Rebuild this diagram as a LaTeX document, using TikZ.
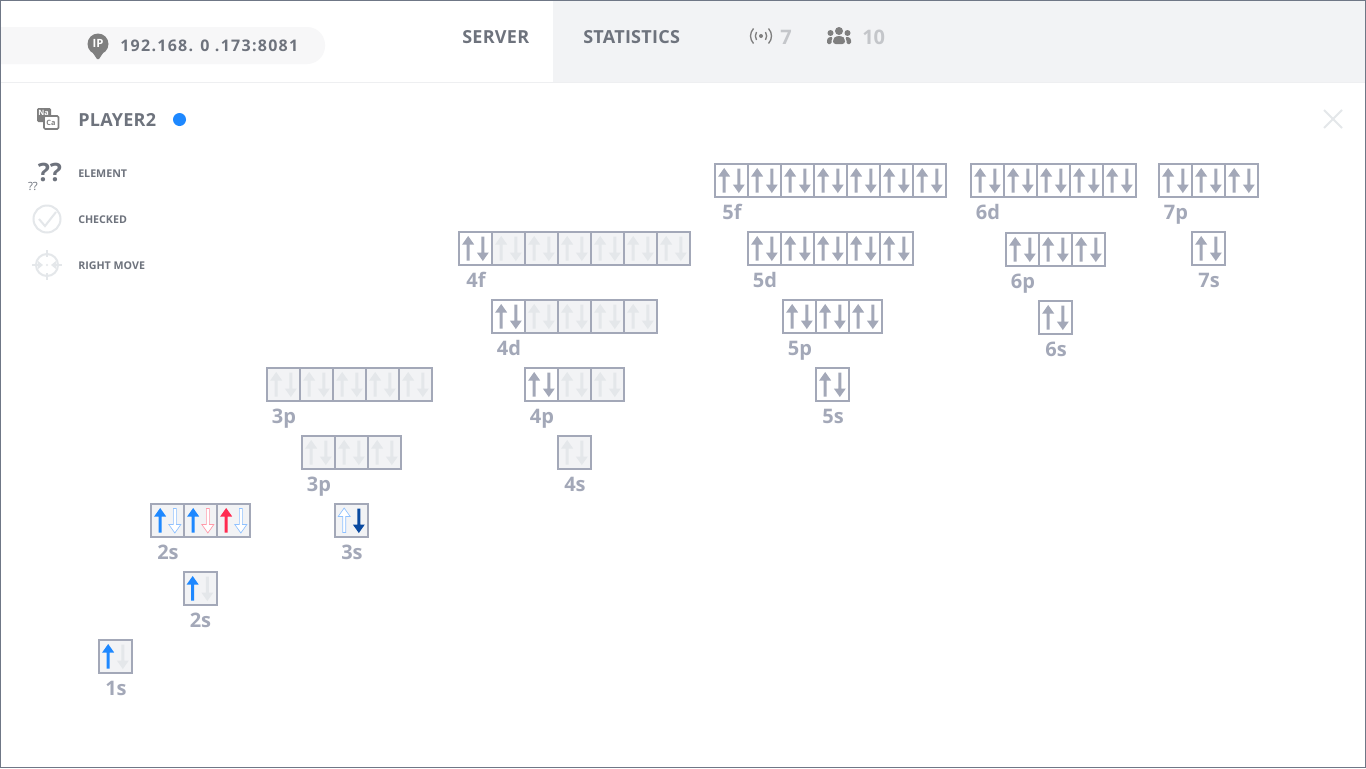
\documentclass[tikz,border=0pt]{standalone}
\usepackage{fontspec}
\setmainfont{Open Sans}
\newfontfamily\ipfont[LetterSpace=8]{Open Sans}
\newfontfamily\headfont[LetterSpace=1.5]{Open Sans}
\usetikzlibrary{positioning}

\definecolor{framegray}{HTML}{6F7786}
\definecolor{tabgray}{HTML}{F2F3F5}
\definecolor{pillgray}{HTML}{F7F7F8}
\definecolor{rulegray}{HTML}{EEEFF1}
\definecolor{titlegray}{HTML}{6E737D}
\definecolor{icongray}{HTML}{7F7F7F}
\definecolor{countgray}{HTML}{C4C6CA}
\definecolor{cellgray}{HTML}{A3A8B8}
\definecolor{faintgray}{HTML}{E4E7EA}
\definecolor{spinblue}{HTML}{1E88FF}
\definecolor{paleblue}{HTML}{8FC1FF}
\definecolor{darkblue}{HTML}{0A4AA0}
\definecolor{spinred}{HTML}{FF2A50}
\definecolor{palered}{HTML}{FF9AA9}

\tikzset{
  cellon/.style={draw=cellgray, line width=1.5pt, fill=white, minimum size=24.75pt, inner sep=0pt, outer sep=0pt},
  celloff/.style={cellon, fill=tabgray},
  orblabel/.style={text=cellgray, font=\fontsize{15}{15}\selectfont\bfseries, anchor=base, inner sep=0pt},
  titletext/.style={text=titlegray, font=\headfont\fontsize{13.5}{15}\selectfont\bfseries, anchor=west, inner sep=0pt},
  legendtext/.style={text=titlegray, font=\fontsize{8}{9}\selectfont\bfseries, anchor=west, inner sep=0pt},
  counttext/.style={text=countgray, font=\fontsize{15}{15}\selectfont\bfseries, anchor=west, inner sep=0pt},
  spingray/.style={fill=cellgray},
  spinfaint/.style={fill=faintgray},
  spinsolid/.style={fill=#1},
  spinopen/.style={draw=#1, fill=white, line width=0.5pt},
  spinup/.pic={
    \path[pic actions] (0,-12.5) -- (6,-4) -- (1.5,-4) -- (1.5,12) -- (-1.5,12) -- (-1.5,-4) -- (-6,-4) -- cycle;
  },
  spindown/.pic={
    \path[pic actions] (0,12.5) -- (6,4) -- (1.5,4) -- (1.5,-12) -- (-1.5,-12) -- (-1.5,4) -- (-6,4) -- cycle;
  },
}

% two arrows of one box
\newcommand{\spins}[3]{
  \pic[#2] at ([xshift=-5.5pt]#1.center) {spinup};
  \pic[#3] at ([xshift=5.5pt]#1.center) {spindown};
}
% name, x, y, boxes, white boxes, label
\newcommand{\orbbox}[6]{
  \foreach \i in {1,...,#4} {
    \ifnum\i>#5 \tikzset{cellnow/.style={celloff}} \else \tikzset{cellnow/.style={cellon}} \fi
    \node[cellnow] (#1-\i) at ({#2+33*(\i-1)+16.5},{#3+16.5}) {};
  }
  \node[orblabel] (#1-label) at ({#2+17},{#3+55}) {#6};
}
\newcommand{\orbrow}[6]{
  \orbbox{#1}{#2}{#3}{#4}{#5}{#6}
  \foreach \i in {1,...,#4} {
    \ifnum\i>#5 \spins{#1-\i}{spinfaint}{spinfaint} \else \spins{#1-\i}{spingray}{spingray} \fi
  }
}

\begin{document}
\begin{tikzpicture}[x=0.75pt, y=-0.75pt]
    \useasboundingbox (0,0) rectangle (1366,768);

    % Header
    \fill[white] (0,0) rectangle (1366,768);
    \fill[tabgray] (553,0) rectangle (1366,82);
    \draw[rulegray, line width=0.75pt] (0,82) -- (1366,82);
    \fill[pillgray, rounded corners=13.5pt] (-30,27) rectangle (325,64);

    % Address
    \fill[icongray] (98,44) circle (10.5);
    \fill[icongray] (93,53) -- (103,53) -- (99,59) -- (97,59) -- cycle;
    \node[text=white, font=\fontsize{8.5}{9}\selectfont\bfseries, inner sep=0pt] (ipmark) at (98,43.5) {IP};
    \node[text=titlegray, font=\ipfont\fontsize{12}{15}\selectfont\bfseries, anchor=west, inner sep=0pt] (address) at (120,46) {192.168. 0 .173:8081};

    % Tabs
    \node[titletext] (server) at (462,37) {SERVER};
    \node[titletext] (statistics) at (583,37) {STATISTICS};
    \node[counttext] (online) at (780,37) {7};
    \node[counttext] (players) at (862,37) {10};

    % Signal icon
    \fill[icongray] (761,36) circle (2);
    \draw[icongray, line width=1pt] (756.5,32) .. controls (755,34.5) and (755,37.5) .. (756.5,40);
    \draw[icongray, line width=1pt] (765.5,32) .. controls (767,34.5) and (767,37.5) .. (765.5,40);
    \draw[icongray, line width=1pt] (753.5,28.5) .. controls (749.5,33) and (749.5,39) .. (753.5,43.5);
    \draw[icongray, line width=1pt] (768.5,28.5) .. controls (772.5,33) and (772.5,39) .. (768.5,43.5);

    % People icon
    \fill[icongray] (839,31) circle (4);
    \fill[icongray] (830.5,33) circle (3);
    \fill[icongray] (847.5,33) circle (3);
    \fill[icongray, rounded corners=2pt] (833,44) -- (833,39) -- (836,36) -- (842,36) -- (845,39) -- (845,44) -- cycle;
    \fill[icongray, rounded corners=1pt] (827,44) -- (827,39) -- (829,37) -- (833,37) -- (831.5,39.5) -- (831.5,44) -- cycle;
    \fill[icongray, rounded corners=1pt] (851,44) -- (851,39) -- (849,37) -- (845,37) -- (846.5,39.5) -- (846.5,44) -- cycle;

    % Player line
    \fill[icongray, rounded corners=1pt] (37,108) rectangle (51,122);
    \node[text=white, font=\fontsize{5.5}{6}\selectfont\bfseries, inner sep=0pt] (namark) at (43.5,113) {Na};
    \draw[icongray, fill=white, line width=1.2pt, rounded corners=1pt] (44,116) rectangle (58.5,129);
    \node[text=icongray, font=\fontsize{5.5}{6}\selectfont\bfseries, inner sep=0pt] (camark) at (51,123) {Ca};
    \node[titletext] (player) at (78,119.5) {PLAYER2};
    \fill[spinblue] (179.5,119.5) circle (6.5);

    % Legend
    \node[text=titlegray, font=\fontsize{19}{20}\selectfont\bfseries, inner sep=0pt] (bigmark) at (50,172) {??};
    \node[text=titlegray, font=\fontsize{8.5}{9}\selectfont, inner sep=0pt] (smallmark) at (33,186) {??};
    \node[legendtext] (element) at (78,173.5) {ELEMENT};

    \draw[faintgray, line width=1.5pt] (47,219) circle (13.5);
    \draw[faintgray, line width=1.5pt] (39,219) -- (45,226) -- (56,212);
    \node[legendtext] (checked) at (78,219.5) {CHECKED};

    \draw[faintgray, line width=1.5pt] (47,265) circle (11);
    \draw[faintgray, line width=1.5pt] (47,250) -- (47,257);
    \draw[faintgray, line width=1.5pt] (47,273) -- (47,280);
    \draw[faintgray, line width=1.5pt] (32,265) -- (40,265);
    \draw[faintgray, line width=1.5pt] (54,265) -- (62,265);
    \fill[faintgray] (38,261) -- (43,265) -- (38,269) -- cycle;
    \fill[faintgray] (56,261) -- (51,265) -- (56,269) -- cycle;
    \fill[faintgray] (47,265) circle (1.2);
    \node[legendtext] (rightmove) at (78,265.5) {RIGHT MOVE};

    % Close mark
    \draw[faintgray, line width=1.5pt] (1324,110) -- (1342,128);
    \draw[faintgray, line width=1.5pt] (1342,110) -- (1324,128);

    % Rows with grey arrows
    \orbrow{fivef}{715}{164}{7}{7}{5f}
    \orbrow{sixd}{971}{164}{5}{5}{6d}
    \orbrow{sevenp}{1159}{164}{3}{3}{7p}
    \orbrow{fourf}{459}{232}{7}{1}{4f}
    \orbrow{fived}{748}{232}{5}{5}{5d}
    \orbrow{sixp}{1006}{233}{3}{3}{6p}
    \orbrow{sevens}{1192}{232}{1}{1}{7s}
    \orbrow{fourd}{492}{300}{5}{1}{4d}
    \orbrow{fivep}{783}{300}{3}{3}{5p}
    \orbrow{sixs}{1039}{301}{1}{1}{6s}
    \orbrow{upperp}{267}{368}{5}{0}{3p}
    \orbrow{fourp}{525}{368}{3}{1}{4p}
    \orbrow{fives}{816}{368}{1}{1}{5s}
    \orbrow{lowerp}{302}{436}{3}{0}{3p}
    \orbrow{fours}{558}{436}{1}{0}{4s}

    % Rows already played
    \orbbox{twop}{151}{504}{3}{0}{2s}
    \spins{twop-1}{spinsolid=spinblue}{spinopen=paleblue}
    \spins{twop-2}{spinsolid=spinblue}{spinopen=palered}
    \spins{twop-3}{spinsolid=spinred}{spinopen=paleblue}
    \orbbox{threes}{335}{504}{1}{0}{3s}
    \spins{threes-1}{spinopen=paleblue}{spinsolid=darkblue}
    \orbbox{twos}{183.5}{572}{1}{0}{2s}
    \spins{twos-1}{spinsolid=spinblue}{spinfaint}
    \orbbox{ones}{99}{640}{1}{0}{1s}
    \spins{ones-1}{spinsolid=spinblue}{spinfaint}

    % Frame
    \draw[framegray, line width=0.75pt] (0.5,0.5) rectangle (1365.5,767.5);

\end{tikzpicture}
\end{document}
